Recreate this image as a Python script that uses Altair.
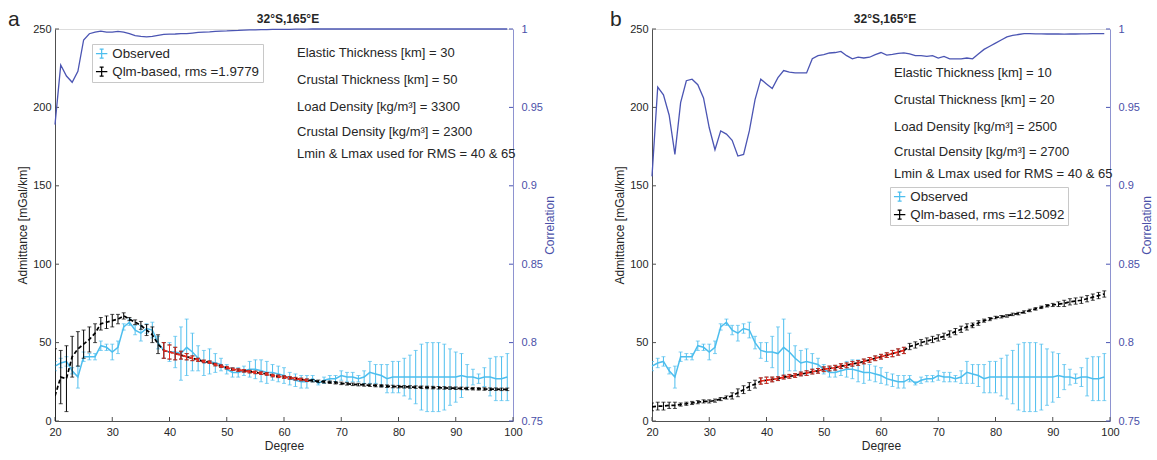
import altair as alt
import pandas as pd

# ---------------------------------------------------------------- data
degree = list(range(20, 100))

observed = [
    35, 37, 38, 32, 28, 41, 41, 41, 48, 47,
    44, 47, 60, 63, 58, 56, 59, 58, 50, 45,
    44, 44, 43, 47, 44, 40, 37, 38, 37, 36,
    33, 31, 31, 32, 33, 33, 32, 31, 31, 30,
    29, 27, 26, 25, 25, 27, 24, 26, 27, 27,
    29, 28, 28, 27, 28, 31, 30, 29, 27, 28,
    28, 28, 28, 28, 28, 28, 28, 28, 28, 28,
    28, 29, 28, 28, 27, 28, 28, 27, 27, 28,
]
observed_err = [
    3, 3, 3, 2, 7, 3, 2, 2, 3, 2,
    5, 4, 2, 2, 3, 5, 3, 5, 4, 5,
    6, 10, 17, 18, 12, 8, 8, 8, 6, 4,
    3, 3, 3, 3, 5, 6, 7, 7, 5, 5,
    5, 4, 4, 4, 4, 2, 1, 2, 2, 2,
    3, 3, 3, 2, 4, 7, 6, 7, 9, 10,
    10, 12, 14, 17, 21, 22, 22, 22, 21, 18,
    16, 14, 8, 5, 3, 6, 12, 14, 14, 15,
]

qlm_a = [
    16, 28, 27, 41, 46, 49, 52, 56, 62, 63,
    64, 65, 67, 65, 63, 61, 58, 55, 49, 45,
    44, 43, 42, 41, 40, 39, 38, 37.5, 36, 35,
    34, 33, 32.5, 32, 31.5, 31, 30.5, 30, 29, 28.5,
    28, 27.5, 27, 26.5, 26, 25.7, 25.3, 25, 24.7, 24.4,
    24, 23.7, 23.4, 23.2, 23, 22.8, 22.6, 22.4, 22.2, 22,
    21.9, 21.8, 21.7, 21.6, 21.5, 21.4, 21.3, 21.2, 21.1, 21,
    20.9, 20.8, 20.7, 20.6, 20.5, 20.4, 20.3, 20.3, 20.2, 20.2,
]
qlm_a_err = [
    30, 17, 21, 13, 11, 9, 8, 6, 4, 4,
    4, 3, 2, 1, 1.5, 2.5, 3.5, 5, 6, 5,
    4.5, 4, 2.5, 2, 1.5, 1, 0.8, 0.8, 0.8, 0.8,
] + [0.8] * 50

corr_a = [
    0.939, 0.977, 0.970, 0.966, 0.973, 0.993, 0.997, 0.998, 0.9986, 0.998,
    0.998, 0.9985, 0.998, 0.997, 0.9958, 0.9953, 0.995, 0.9953, 0.996, 0.9966,
    0.9967, 0.9968, 0.997, 0.997, 0.9974, 0.9978, 0.998, 0.9982, 0.9985, 0.9987,
    0.9988, 0.999, 0.9991, 0.9993, 0.9994, 0.9995, 0.9996, 0.9996, 0.9997, 0.9997,
    0.9998, 0.9998, 0.9999, 0.9999, 0.9999, 1.0, 1.0, 1.0, 1.0, 1.0,
] + [1.0] * 30

qlm_b = [
    9, 9.5, 9.5, 10, 10, 10.5, 11, 11.5, 12, 12.5,
    12.5, 13, 14, 15, 16, 18, 20, 22, 23.5, 25.5,
    26, 26.5, 27, 28, 28.5, 29, 30, 30.5, 31.5, 32,
    33, 33.5, 34, 35, 35.5, 36.5, 37, 38, 39, 40,
    41, 42, 43, 44, 45, 47.5, 48.5, 50, 51, 52,
    53, 54, 55.5, 57, 58.5, 60, 61, 62.5, 64, 65,
    66, 66.5, 67, 68, 68.5, 69.5, 70.5, 71.5, 72.5, 73.5,
    74, 74.5, 75, 76, 76.5, 77, 78, 79, 80, 81,
]
qlm_b_err = [
    2.5, 2.5, 2.5, 2, 2, 1, 1, 1, 1, 1,
    1, 1, 1, 1, 2, 2.5, 2.5, 2.5, 2.5, 2,
    2, 1.5, 1.2, 1.2, 1.2, 1.2, 1.2, 1.5, 1.5, 1.5,
    1.5, 1.5, 1.5, 1.5, 1.5, 1.5, 1.5, 1.5, 1.5, 1.5,
    1.5, 1.5, 2, 2, 2, 2, 2, 2, 2, 2,
    2, 2, 2, 2, 2, 2, 1.5, 1.5, 1, 1,
    0.8, 0.8, 0.8, 0.8, 0.8, 0.8, 0.8, 0.8, 0.8, 0.8,
    1, 1.5, 2, 2, 2, 2, 2, 2, 2, 2,
]

corr_b = [
    0.906, 0.963, 0.958, 0.945, 0.920, 0.953, 0.967, 0.968, 0.9645, 0.956,
    0.937, 0.923, 0.935, 0.933, 0.929, 0.919, 0.920, 0.935, 0.955, 0.968,
    0.965, 0.962, 0.969, 0.9735, 0.9725, 0.972, 0.972, 0.972, 0.981, 0.983,
    0.9836, 0.9847, 0.985, 0.9857, 0.983, 0.981, 0.982, 0.9815, 0.982, 0.9836,
    0.985, 0.9834, 0.9838, 0.9845, 0.9848, 0.9842, 0.983, 0.983, 0.9826, 0.983,
    0.9815, 0.9825, 0.981, 0.981, 0.981, 0.9815, 0.981, 0.984, 0.987, 0.989,
    0.991, 0.993, 0.995, 0.996, 0.9965, 0.997, 0.997, 0.9969, 0.9969, 0.9968,
    0.9968, 0.9968, 0.9967, 0.9968, 0.9968, 0.9969, 0.9969, 0.997, 0.997, 0.997,
]

x_ticks = list(range(20, 101, 10))
adm_ticks = [0, 50, 100, 150, 200, 250]
corr_ticks = [0.75, 0.8, 0.85, 0.9, 0.95, 1.0]

params_a = [
    "Elastic Thickness [km] = 30",
    "Crustal Thickness [km] = 50",
    "Load Density [kg/m³] = 3300",
    "Crustal Density [kg/m³] = 2300",
    "Lmin & Lmax used for RMS = 40 & 65",
]
params_b = [
    "Elastic Thickness [km] = 10",
    "Crustal Thickness [km] = 20",
    "Load Density [kg/m³] = 2500",
    "Crustal Density [kg/m³] = 2700",
    "Lmin & Lmax used for RMS = 40 & 65",
]
site = "32°S,165°E"

# ---------------------------------------------------------------- style
FONT = "Liberation Sans"
INK = "#262626"
AXIS = "#505050"
CYAN = "#4DBEEE"
RED = "#EE2A1E"
BLUE = "#4B55B3"
BLUE_TXT = "#4A50A8"
W, H = 458, 392
TICK = 4
NOTE_STEPS = [0, 27, 54, 79, 101]   # vertical offsets of the annotation lines
ERRBAR_ICON = "M-1,0H1M0,-0.8V0.8M-0.35,-0.8H0.35M-0.35,0.8H0.35"

one_row = alt.Data(values=[{}])

XSCALE = alt.Scale(domain=[20, 100], nice=False, zero=False)
YSCALE = alt.Scale(domain=[0, 250], nice=False)
CSCALE = alt.Scale(domain=[0.75, 1.0], nice=False, zero=False)

X_AXIS = alt.Axis(
    title="Degree", values=x_ticks, grid=False, ticks=False,
    labelFlush=False, domainColor=AXIS, labelColor=INK, labelFont=FONT,
    labelFontSize=11, labelPadding=5, titleFont=FONT, titleFontSize=12,
    titleFontWeight="normal", titleColor=INK, titlePadding=3)
Y_AXIS = alt.Axis(
    title="Admittance [mGal/km]", values=adm_ticks, grid=False,
    ticks=False, labelFlush=False, domainColor=AXIS, labelColor=INK,
    labelFont=FONT, labelFontSize=11, labelPadding=4, titleFont=FONT,
    titleFontSize=12, titleFontWeight="normal", titleColor=INK,
    titlePadding=3)
C_AXIS = alt.Axis(
    orient="right", title="Correlation", values=corr_ticks,
    format=".2~f", grid=False, ticks=False, labelFlush=False,
    domainColor="#8E93D0", labelColor=BLUE_TXT, labelFont=FONT,
    labelFontSize=11, labelPadding=8, titleFont=FONT, titleFontSize=12,
    titleFontWeight="normal", titleColor=BLUE_TXT, titleAngle=270,
    titlePadding=14)


def xq(field):
    return alt.X(f"{field}:Q", scale=XSCALE, axis=X_AXIS)


def yq(field):
    return alt.Y(f"{field}:Q", scale=YSCALE, axis=Y_AXIS)


def cq(field):
    return alt.Y(f"{field}:Q", scale=CSCALE, axis=C_AXIS)


def table(values, errors):
    df = pd.DataFrame({"degree": degree, "value": values, "err": errors})
    df["lo"] = df["value"] - df["err"]
    df["hi"] = df["value"] + df["err"]
    return df


def errbars(df, color, where=None):
    base = alt.Chart(df)
    if where is not None:
        base = base.transform_filter(where)
    rule = base.mark_rule(color=color, strokeWidth=1, clip=True).encode(
        x=xq("degree"), y=yq("lo"), y2="hi:Q")
    cap_lo = base.mark_tick(color=color, orient="horizontal", size=4,
                            thickness=1, clip=True).encode(
        x=xq("degree"), y=yq("lo"))
    cap_hi = base.mark_tick(color=color, orient="horizontal", size=4,
                            thickness=1, clip=True).encode(
        x=xq("degree"), y=yq("hi"))
    return [rule, cap_lo, cap_hi]


def panel(letter, letter_x, model, model_err, corr, rms, params,
          legend_xy, text_y):
    obs = table(observed, observed_err)
    mod = table(model, model_err)
    cor = pd.DataFrame({"degree": degree, "corr": corr})

    in_window = (alt.datum.degree >= 39) & (alt.datum.degree <= 64)

    obs_line = alt.Chart(obs).mark_line(color=CYAN, strokeWidth=1.5).encode(
        x=xq("degree"), y=yq("value"))

    # inward-pointing tick marks on the bottom and left edges
    x_inward = alt.Chart(pd.DataFrame({"degree": x_ticks})).mark_rule(
        color=AXIS, strokeWidth=1).encode(
        x=xq("degree"), y=alt.value(H), y2=alt.value(H - TICK))
    y_inward = alt.Chart(pd.DataFrame({"value": adm_ticks})).mark_rule(
        color=AXIS, strokeWidth=1).encode(
        y=yq("value"), x=alt.value(0), x2=alt.value(TICK))

    mod_line = alt.Chart(mod).mark_line(
        color="black", strokeWidth=1.7, strokeDash=[4, 2.5], clip=True).encode(
        x=xq("degree"), y=yq("value"))
    mod_red = alt.Chart(mod).transform_filter(in_window).mark_line(
        color=RED, strokeWidth=1.7, strokeDash=[4, 2.5]).encode(
        x=xq("degree"), y=yq("value"))

    labels = ["Observed", f"Qlm-based, rms ={rms}"]
    legend = alt.Chart(pd.DataFrame({"series": labels})).mark_point(
        opacity=0, filled=False).encode(
        color=alt.Color("series:N", sort=labels,
                        scale=alt.Scale(domain=labels, range=[CYAN, "black"]),
                        legend=alt.Legend(
                            title=None, orient="none",
                            legendX=legend_xy[0], legendY=legend_xy[1],
                            symbolType=ERRBAR_ICON, symbolSize=130,
                            symbolStrokeWidth=1.2, symbolOpacity=1,
                            symbolFillColor="transparent",
                            labelFont=FONT, labelFontSize=13.3,
                            labelColor=INK, labelLimit=400, rowPadding=3,
                            padding=3, strokeColor="#c8c8c8",
                            fillColor="white")))

    notes = [
        alt.Chart(one_row).mark_text(
            text=line, align="left", baseline="alphabetic", font=FONT,
            fontSize=13, color=INK).encode(
            x=alt.value(242), y=alt.value(text_y + step))
        for line, step in zip(params, NOTE_STEPS)
    ]
    heading = alt.Chart(one_row).mark_text(
        text=site, align="center", baseline="middle", font=FONT,
        fontSize=12, fontWeight="bold", color=INK).encode(
        x=alt.value(W / 2 + 4), y=alt.value(-10))
    tag = alt.Chart(one_row).mark_text(
        text=letter, align="left", baseline="alphabetic", font=FONT,
        fontSize=21, color=INK).encode(
        x=alt.value(letter_x), y=alt.value(-3))

    admittance = alt.layer(
        obs_line, x_inward, y_inward,
        *errbars(obs, CYAN),
        mod_line, *errbars(mod, "black"),
        mod_red, *errbars(mod, RED, in_window),
        legend, *notes, heading, tag,
    )

    corr_line = alt.Chart(cor).mark_line(color=BLUE, strokeWidth=1.3).encode(
        x=xq("degree"), y=cq("corr"))
    c_inward = alt.Chart(pd.DataFrame({"corr": corr_ticks})).mark_rule(
        color=BLUE, strokeWidth=1).encode(
        y=cq("corr"), x=alt.value(W), x2=alt.value(W - TICK))
    correlation = alt.layer(corr_line, c_inward)

    return alt.layer(admittance, correlation).resolve_scale(
        y="independent").properties(width=W, height=H)


left = panel("a", -47, qlm_a, qlm_a_err, corr_a, "1.9779", params_a,
             (37, 15), 28)
right = panel("b", -42, qlm_b, qlm_b_err, corr_b, "12.5092", params_b,
              (238, 158), 48)

chart = alt.hconcat(left, right, spacing=139, bounds="flush").resolve_scale(
    color="independent").properties(
    padding={"left": 7, "top": 8, "right": 0, "bottom": 0}
).configure_view(stroke=None).configure(background="white")

chart.save("out.html", embed_options={"renderer": "svg", "actions": False})
